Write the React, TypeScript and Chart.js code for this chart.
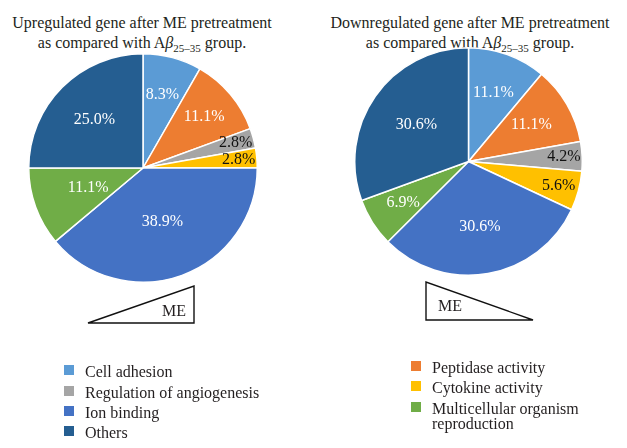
import React, { useEffect, useRef } from "react";
import { Chart, registerables } from "chart.js";

Chart.register(...registerables);

const categories = [
  "Cell adhesion",
  "Peptidase activity",
  "Regulation of angiogenesis",
  "Cytokine activity",
  "Ion binding",
  "Multicellular organism reproduction",
  "Others",
];
const upValues = [8.3, 11.1, 2.8, 2.8, 38.9, 11.1, 25.0];
const downValues = [11.1, 11.1, 4.2, 5.6, 30.6, 6.9, 30.6];
const colors = ["#5B9BD5", "#ED7D31", "#A5A5A5", "#FFC000", "#4472C4", "#70AD47", "#255E91"];

// style: label distance from center as fraction of radius
const upLabelRadius = [0.66, 0.7, 0.84, 0.84, 0.5, 0.51, 0.6];
const downLabelRadius = [0.64, 0.64, 0.84, 0.82, 0.58, 0.68, 0.56];
const darkLabel = [false, false, true, true, false, false, false];

const SERIF = '"Liberation Serif", "Times New Roman", serif';

function makeLabelPlugin(values: number[], radii: number[]) {
  return {
    id: "sliceLabels",
    afterDatasetsDraw(chart: any) {
      const ctx = chart.ctx;
      const meta = chart.getDatasetMeta(0);
      ctx.save();
      ctx.font = `16px ${SERIF}`;
      ctx.textAlign = "center";
      ctx.textBaseline = "middle";
      meta.data.forEach((arc: any, i: number) => {
        const p = arc.getProps(["x", "y", "startAngle", "endAngle", "outerRadius"], true);
        const mid = (p.startAngle + p.endAngle) / 2;
        const r = p.outerRadius * radii[i];
        ctx.fillStyle = darkLabel[i] ? "#111111" : "#ffffff";
        ctx.fillText(values[i].toFixed(1) + "%", p.x + Math.cos(mid) * r, p.y + Math.sin(mid) * r);
      });
      ctx.restore();
    },
  };
}

function PieCanvas(props: { values: number[]; radii: number[]; left: number; top: number; size: number }) {
  const ref = useRef<HTMLCanvasElement>(null);
  useEffect(() => {
    if (!ref.current) return;
    const chart = new Chart(ref.current, {
      type: "pie",
      data: {
        labels: categories,
        datasets: [
          {
            data: props.values,
            backgroundColor: colors,
            borderColor: "#ffffff",
            borderWidth: 1.5,
          },
        ],
      },
      options: {
        responsive: false,
        maintainAspectRatio: false,
        animation: false,
        events: [],
        layout: { padding: 0 },
        plugins: { legend: { display: false }, tooltip: { enabled: false }, title: { display: false } },
      },
      plugins: [makeLabelPlugin(props.values, props.radii)],
    });
    return () => chart.destroy();
  }, []);
  return (
    <canvas
      ref={ref}
      width={props.size}
      height={props.size}
      style={{ position: "absolute", left: props.left, top: props.top, width: props.size, height: props.size }}
    />
  );
}

const textStyle: React.CSSProperties = {
  fontFamily: SERIF,
  fontSize: 16,
  color: "#231f20",
};

function Title(props: { first: string; left: number; width: number }) {
  return (
    <div
      style={{
        ...textStyle,
        position: "absolute",
        left: props.left,
        top: 13,
        width: props.width,
        textAlign: "center",
        lineHeight: "20px",
        whiteSpace: "nowrap",
      }}
    >
      <div>{props.first}</div>
      <div>
        as compared with A<i>β</i>
        <sub style={{ fontSize: 11, lineHeight: 0 }}>25–35</sub> group.
      </div>
    </div>
  );
}

function LegendItem(props: { color: string; label: React.ReactNode; left: number; top: number }) {
  return (
    <div style={{ position: "absolute", left: props.left, top: props.top, display: "flex", ...textStyle, lineHeight: "15px" }}>
      <div style={{ width: 10, height: 10, background: props.color, marginTop: 1, marginRight: 11, flex: "none" }} />
      <div>{props.label}</div>
    </div>
  );
}

export default function App() {
  return (
    <div
      style={{
        position: "absolute",
        left: 0,
        top: 0,
        width: 627,
        height: 448,
        overflow: "hidden",
        background: "#ffffff",
      }}
    >
      <Title first="Upregulated gene after ME pretreatment" left={0} width={284} />
      <Title first="Downregulated gene after ME pretreatment" left={320} width={300} />

      <PieCanvas values={upValues} radii={upLabelRadius} left={28} top={53} size={230} />
      <PieCanvas values={downValues} radii={downLabelRadius} left={354} top={47} size={229} />

      <svg width={627} height={448} style={{ position: "absolute", left: 0, top: 0, pointerEvents: "none" }}>
        <polygon points="88,323 194,286 194,323" fill="none" stroke="#111" strokeWidth={1.4} />
        <polygon points="426,282 426,320 533,320" fill="none" stroke="#111" strokeWidth={1.4} />
      </svg>
      <div style={{ ...textStyle, position: "absolute", left: 162, top: 301, lineHeight: "20px" }}>ME</div>
      <div style={{ ...textStyle, position: "absolute", left: 438, top: 296, lineHeight: "20px" }}>ME</div>

      <LegendItem color={colors[0]} label={categories[0]} left={64} top={364} />
      <LegendItem color={colors[2]} label={categories[2]} left={64} top={385} />
      <LegendItem color={colors[4]} label={categories[4]} left={64} top={405} />
      <LegendItem color={colors[6]} label={categories[6]} left={64} top={425} />

      <LegendItem color={colors[1]} label={categories[1]} left={411} top={360} />
      <LegendItem color={colors[3]} label={categories[3]} left={411} top={380} />
      <LegendItem
        color={colors[5]}
        label={
          <span>
            Multicellular organism
            <br />
            reproduction
          </span>
        }
        left={411}
        top={401}
      />
    </div>
  );
}
